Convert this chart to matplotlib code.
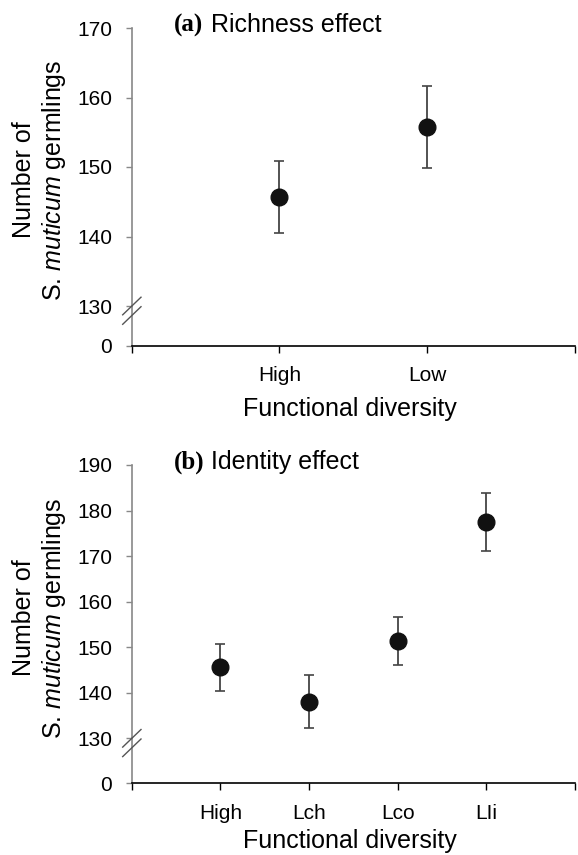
import matplotlib
matplotlib.use('Agg')
import matplotlib.pyplot as plt
from matplotlib.lines import Line2D

plt.rcParams['font.family'] = ['Liberation Sans', 'DejaVu Sans']
plt.rcParams['mathtext.fontset'] = 'custom'
plt.rcParams['mathtext.rm'] = 'Liberation Sans'
plt.rcParams['mathtext.it'] = 'Liberation Sans:italic'

# data
rich_groups = ['High', 'Low']
rich_mean = [145.7, 155.7]
rich_err = [5.2, 5.9]

ident_groups = ['High', 'Lch', 'Lco', 'LIi']
ident_mean = [145.6, 138.0, 151.4, 177.5]
ident_err = [5.2, 5.8, 5.3, 6.3]

W, H = 578, 855
fig = plt.figure(figsize=(W / 100, H / 100), dpi=100)


def box(x0, y0, x1, y1):
    # pixel box (top-left origin) -> figure fraction rect
    return [x0 / W, 1 - y1 / H, (x1 - x0) / W, (y1 - y0) / H]


def panel(top, mid, zero, groups, mean, err, ylim, yticks, letter, title, ylab_y, xlab_y):
    n = len(groups)
    ax = fig.add_axes(box(131.7, top, 575, mid))
    axb = fig.add_axes(box(131.7, mid, 575, zero), sharex=ax)
    xs = list(range(1, n + 1))
    ax.errorbar(xs, mean, yerr=err, fmt='o', color='#111111', ms=12,
                ecolor='#444444', elinewidth=1.3, capsize=3.5, capthick=1.2,
                clip_on=False, zorder=3)
    ax.set_xlim(0, n + 1)
    ax.set_ylim(*ylim)
    ax.set_yticks(yticks)
    for s in ['top', 'right', 'bottom']:
        ax.spines[s].set_visible(False)
    ax.spines['left'].set_color('#888888')
    ax.spines['left'].set_linewidth(1.2)
    ax.tick_params(axis='y', colors='#888888', labelcolor='black', length=4,
                   width=1.0, labelsize=15, pad=10)
    ax.tick_params(axis='x', bottom=False, labelbottom=False)

    axb.set_ylim(0, 1)
    axb.set_yticks([0])
    axb.spines['top'].set_visible(False)
    axb.spines['right'].set_visible(False)
    axb.spines['left'].set_color('#888888')
    axb.spines['left'].set_linewidth(1.2)
    axb.spines['bottom'].set_linewidth(1.2)
    axb.tick_params(axis='y', colors='#888888', labelcolor='black', length=4,
                    width=1.0, labelsize=15, pad=10)
    axb.set_xticks(range(0, n + 2))
    axb.set_xticklabels([''] + groups + [''])
    axb.tick_params(axis='x', length=5, width=1.0, labelsize=15, pad=10)
    axb.patch.set_alpha(0)

    # break marks on the y axis
    for dy in [0, 9.5]:
        yc = mid + dy
        fig.add_artist(Line2D([122.7 / W, 141 / W],
                              [1 - (yc + 8.8) / H, 1 - (yc - 8.8) / H],
                              color='#555555', lw=1.0))

    fig.text(174 / W, 1 - (top + 4) / H, letter, family='Liberation Serif',
             weight='bold', fontsize=18, va='baseline', ha='left')
    fig.text(211 / W, 1 - (top + 4) / H, title, fontsize=18, va='baseline', ha='left')
    fig.text(40 / W, 1 - ylab_y / H, 'Number of\nS. $\\mathit{muticum}$ germlings',
             rotation=90, ha='center', va='center', multialignment='center',
             fontsize=18, linespacing=1.15)
    fig.text(350 / W, 1 - xlab_y / H, 'Functional diversity', ha='center',
             va='center', fontsize=18)


panel(28, 306, 345.5, rich_groups, rich_mean, rich_err, (130, 170),
      [130, 140, 150, 160, 170], '(a)', 'Richness effect', 180, 409)
panel(465, 738.3, 783.3, ident_groups, ident_mean, ident_err, (130, 190),
      [130, 140, 150, 160, 170, 180, 190], '(b)', 'Identity effect', 618, 841)

fig.savefig('out.png', dpi=100)
